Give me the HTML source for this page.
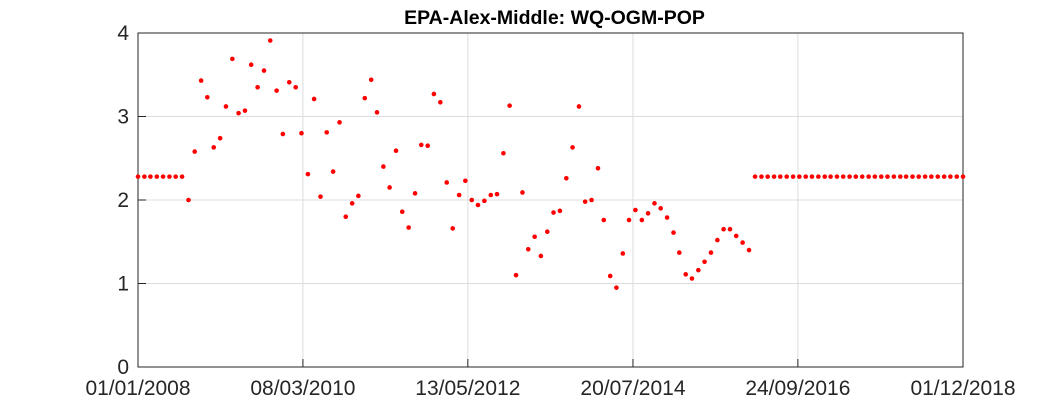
<!DOCTYPE html>
<html><head><meta charset="utf-8"><style>
body{margin:0;background:#fff;}
svg{display:block;font-family:"Liberation Sans",sans-serif;}
</style></head><body>
<svg id="chart" width="1063" height="413"></svg>
<script>
const startYear = 2008, startMonth = 0;
const values = [2.28,2.28,2.28,2.28,2.28,2.28,2.28,2.28,
2.00,2.58,3.43,3.23,2.63,2.74,3.12,3.69,3.04,3.07,3.62,3.35,3.55,3.91,3.31,2.79,3.41,3.35,2.80,2.31,3.21,2.04,2.81,2.34,2.93,1.80,1.96,2.05,3.22,3.44,3.05,2.40,2.15,2.59,1.86,1.67,2.08,2.66,2.65,3.27,3.17,2.21,1.66,2.06,2.23,2.00,1.94,1.99,2.06,2.07,2.56,3.13,1.10,2.09,1.41,1.56,1.33,1.62,1.85,1.87,2.26,2.63,3.12,1.98,2.00,2.38,1.76,1.09,0.95,1.36,1.76,1.88,1.76,1.84,1.96,1.90,1.79,1.61,1.37,1.11,1.06,1.16,1.26,1.37,1.52,1.65,1.65,1.57,1.49,1.40,
2.28,2.28,2.28,2.28,2.28,2.28,2.28,2.28,2.28,2.28,2.28,2.28,2.28,2.28,2.28,2.28,2.28,2.28,2.28,2.28,2.28,2.28,2.28,2.28,2.28,2.28,2.28,2.28,2.28,2.28,2.28,2.28,2.28,2.28];
const xTickLabels = ["01/01/2008","08/03/2010","13/05/2012","20/07/2014","24/09/2016","01/12/2018"];
const yTicks = [0,1,2,3,4];
const titleText = "EPA-Alex-Middle: WQ-OGM-POP";

const L=138,R=963,T=33,B=367;
const parse=s=>{const [d,m,y]=s.split('/').map(Number);return Date.UTC(y,m-1,d);};
const xMin=parse(xTickLabels[0]), xMax=parse(xTickLabels[xTickLabels.length-1]);
const xs=t=>L+(t-xMin)/(xMax-xMin)*(R-L);
const ys=v=>B-(v-0)/(4-0)*(B-T);
const NS="http://www.w3.org/2000/svg";
const svg=document.getElementById('chart');
function mk(tag,attrs,parent){const e=document.createElementNS(NS,tag);for(const k in attrs)e.setAttribute(k,attrs[k]);(parent||svg).appendChild(e);return e;}
const grid=mk('g',{});


xTickLabels.forEach(s=>{const x=xs(parse(s));
 const l=mk('line',{x1:x,x2:x,y1:T,y2:B,stroke:'#dcdcdc','stroke-width':1},grid);
 
 
 const tk=mk('line',{x1:x,x2:x,y1:B,y2:B-8,stroke:'#262626','stroke-width':1});
 
 
 const tt=mk('text',{x:x,y:B+28,'text-anchor':'middle','font-size':21,fill:'#262626'});
 tt.textContent=s;
 
 
});
yTicks.forEach(v=>{const y=ys(v);
 const l=mk('line',{x1:L,x2:R,y1:y,y2:y,stroke:'#dcdcdc','stroke-width':1},grid);
 
 
 const tk=mk('line',{x1:L,x2:L+8,y1:y,y2:y,stroke:'#262626','stroke-width':1});
 
 
 const tt=mk('text',{x:L-9,y:y+7,'text-anchor':'end','font-size':21,fill:'#262626'});
 tt.textContent=v;
 
 
});
const frame=mk('rect',{x:L,y:T,width:R-L,height:B-T,fill:'none',stroke:'#262626','stroke-width':1});


const pts=mk('g',{});


values.forEach((v,i)=>{const t=Date.UTC(startYear,startMonth+i,1);
 const c=mk('circle',{cx:xs(t),cy:ys(v),r:2.3,fill:'#ff0000'},pts);
 
 
});
const title=mk('text',{x:(L+R)/2+4,y:24,'text-anchor':'middle','font-size':19.5,'font-weight':'bold',fill:'#000'});
title.textContent=titleText;


</script>
</body></html>
